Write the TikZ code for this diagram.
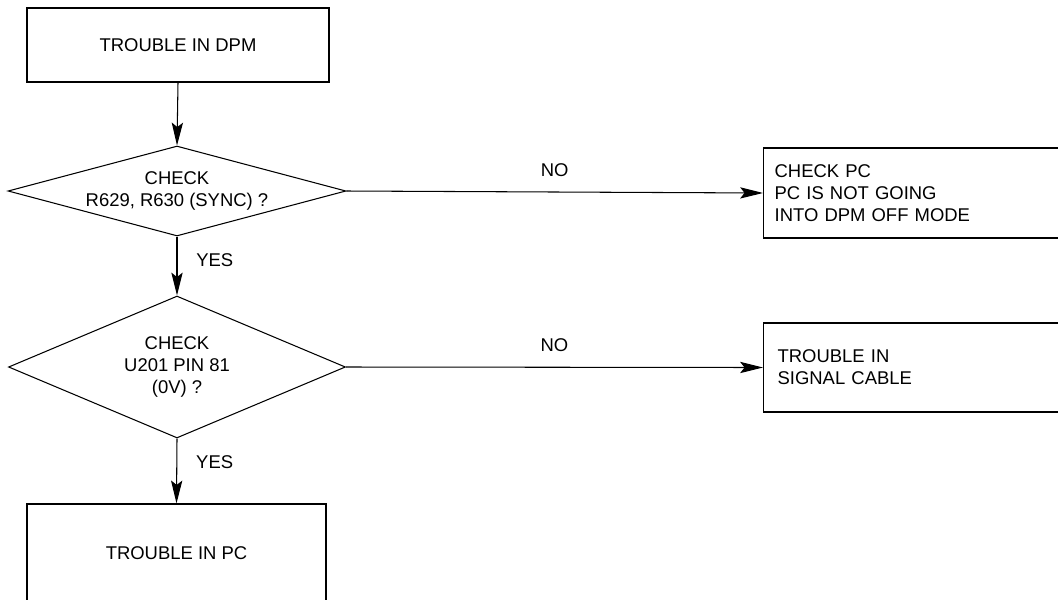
\documentclass[tikz,border=0pt]{standalone}
\usepackage{fontspec}
\setmainfont{Liberation Sans}
\usetikzlibrary{shapes.geometric,arrows.meta}

\begin{document}
\begin{tikzpicture}[x=0.02cm, y=-0.02cm,
	every node/.style={font=\fontsize{10.5}{12.5}\selectfont},
	stepbox/.style={draw, line width=0.7pt, inner sep=0pt, align=center},
	endbox/.style={draw, line width=0.7pt, anchor=west, align=left, minimum height=1.8cm},
	question/.style={draw, diamond, line width=0.6pt, inner sep=0pt, align=center},
	flow/.style={line width=0.6pt, -{Stealth[length=13pt, width=6.4pt, inset=2.5pt]}}]
	\useasboundingbox (0,0) rectangle (1058,599);
	\clip (0,0) rectangle (1058,599);
	\node[stepbox, minimum width=6.04cm, minimum height=1.48cm] (dpm) at (178,45) {TROUBLE IN DPM};
	\node[question, aspect=3.76, minimum width=6.76cm, minimum height=1.8cm] (sync) at (177,191) {CHECK\\R629, R630 (SYNC) ?};
	\node[question, aspect=2.37, minimum width=6.74cm, minimum height=2.84cm] (pin) at (177,367) {CHECK\\U201 PIN 81\\(0V) ?};
	\node[stepbox, minimum width=5.98cm, minimum height=1.96cm] (pc) at (176.5,553) {TROUBLE IN PC};
	\node[endbox, inner xsep=0.22cm, text width=6.16cm] (offmode) at (763,193) {CHECK PC\\PC IS NOT GOING\\INTO DPM OFF MODE};
	\node[endbox, inner xsep=0.28cm, text width=6.04cm, minimum height=1.78cm] (cable) at (763,367.5) {TROUBLE IN\\SIGNAL CABLE};
	\draw[flow] (dpm.south) -- (sync.north);
	\draw[flow] (sync.south) -- node[pos=0.4, right=0.26cm] (yes1) {YES} (pin.north);
	\draw[flow] (pin.south) -- node[pos=0.37, right=0.26cm] (yes2) {YES} (pc.north);
	\draw[flow] (sync.east) -- node[above=0.18cm] (no1) {NO} (offmode.west);
	\draw[flow] (pin.east) -- node[above=0.18cm] (no2) {NO} (cable.west);
\end{tikzpicture}
\end{document}
